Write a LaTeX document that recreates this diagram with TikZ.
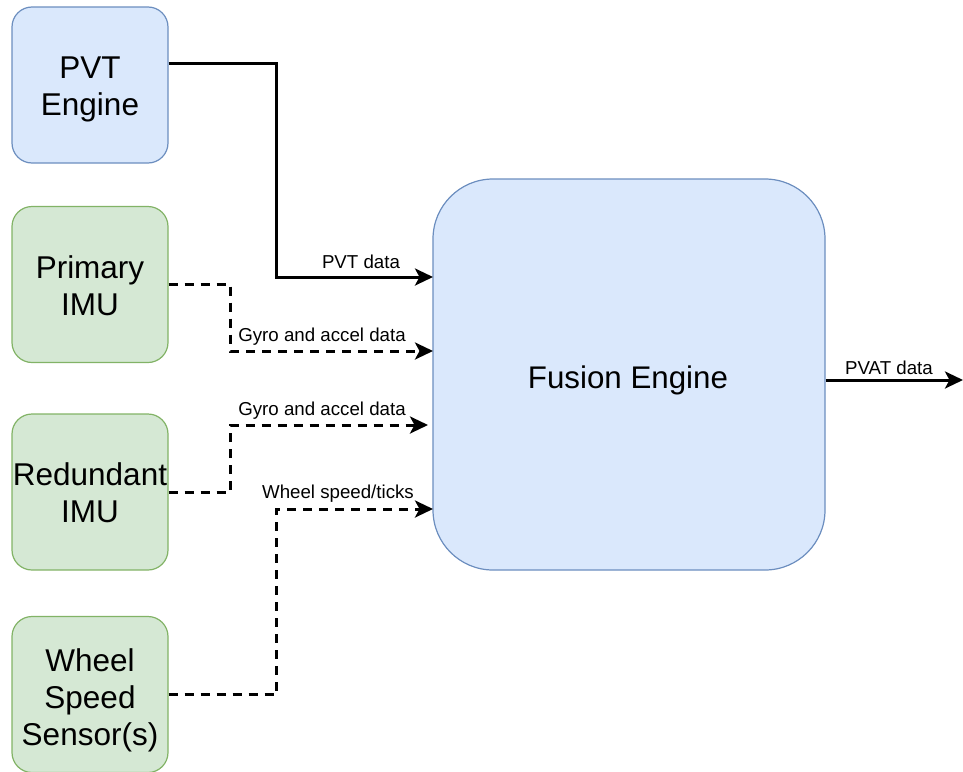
\documentclass[tikz,border=0pt]{standalone}
\usepackage{fontspec}
\setmainfont{Liberation Sans}
\usetikzlibrary{arrows.meta,calc}
\definecolor{bluefill}{HTML}{DAE8FC}
\definecolor{bluedraw}{HTML}{6C8EBF}
\definecolor{greenfill}{HTML}{D5E8D4}
\definecolor{greendraw}{HTML}{82B366}
\tikzset{
  block/.style={rounded corners=20pt, minimum width=156pt, minimum height=156pt,
    inner sep=0pt, line width=1.2pt},
  gnssblock/.style={block, fill=bluefill, draw=bluedraw},
  sensorblock/.style={block, fill=greenfill, draw=greendraw},
  blocktext/.style={inner sep=0pt, align=center, font=\fontsize{31.5}{37}\selectfont},
  fusionblock/.style={rounded corners=60pt, minimum width=392pt, minimum height=391pt,
    inner sep=0pt, fill=bluefill, draw=bluedraw, line width=1.2pt},
  flow/.style={line width=3pt, -{Stealth[length=18pt,width=17pt,inset=4.5pt]}},
  optflow/.style={flow, dash pattern=on 9pt off 7pt},
  lbl/.style={font=\fontsize{18.7}{21}\selectfont, inner sep=0pt}
}
\begin{document}
\begin{tikzpicture}[x=1pt,y=-1pt]
\useasboundingbox (0,0) rectangle (963,771);

% input sources
\node[gnssblock]   (pvt)   at (90,85)    {};
\node[sensorblock] (imu1)  at (90,284.5) {};
\node[sensorblock] (imu2)  at (90,492)   {};
\node[sensorblock] (wheel) at (90,694.5) {};
\node[blocktext] (pvttext)   at ([yshift=-4pt]pvt.center)   {PVT\\Engine};
\node[blocktext] (imu1text)  at ([yshift=-1pt]imu1.center)  {Primary\\IMU};
\node[blocktext] (imu2text)  at ([yshift=-1pt]imu2.center)  {Redundant\\IMU};
\node[blocktext] (wheeltext) at ([yshift=-6pt]wheel.center) {Wheel\\Speed\\Sensor(s)};

% fusion block
\node[fusionblock] (fusion) at (629,374.5) {};
\node[blocktext, font=\fontsize{31.3}{36}\selectfont] (fusiontext) at (628,380) {Fusion Engine};

% entry points on the fusion block
\coordinate (inPVT)   at (433,277);
\coordinate (inIMU1)  at (433,351);
\coordinate (inIMU2)  at (428,425);
\coordinate (inWheel) at (433,509);
\coordinate (outPVAT) at (963,380);

% connectors
\draw[flow]    ([yshift=22pt]pvt.east) -- ++(108,0) |- (inPVT);
\draw[optflow] (imu1.east) -- ++(62,0) |- (inIMU1);
\draw[optflow] (imu2.east) -- ++(62,0) |- (inIMU2);
\draw[optflow] (wheel.east) -- ++(108,0) |- (inWheel);
\draw[flow]    (fusion.east |- outPVAT) -- (outPVAT);

% connector labels
\node[lbl] (lPVT)   at (361,262)   {PVT data};
\node[lbl] (lIMU1)  at (322,337)   {Gyro and accel data};
\node[lbl] (lIMU2)  at (322,411)   {Gyro and accel data};
\node[lbl] (lWheel) at (338,494)   {Wheel speed/ticks};
\node[lbl] (lPVAT)  at (889,368)   {PVAT data};
\end{tikzpicture}
\end{document}
